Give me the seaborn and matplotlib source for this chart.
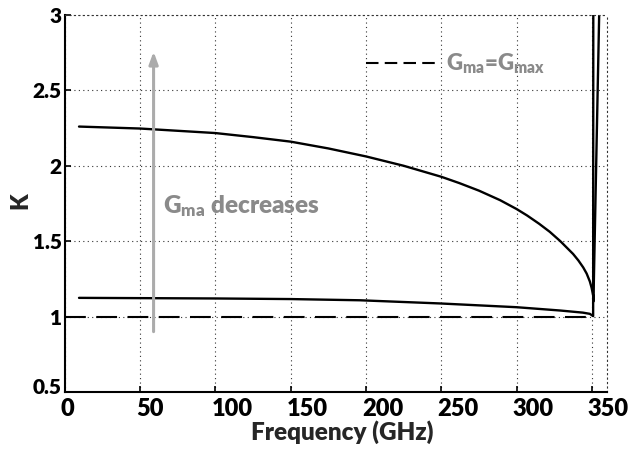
import matplotlib
matplotlib.use("Agg")
import matplotlib.pyplot as plt
import matplotlib.transforms as mtransforms
import seaborn as sns
import pandas as pd

# Stability factor K versus frequency for two bias conditions
freq_hi = [9.5, 50, 100, 125, 150, 175, 200, 225, 250, 262, 275, 289, 300,
           307, 315, 322, 329, 333, 337.5, 341, 344.2, 346.5, 348.6, 349.8,
           350.8, 351.0, 354.9]
k_hi = [2.26, 2.247, 2.217, 2.19, 2.16, 2.115, 2.062, 2.0, 1.927, 1.885,
        1.835, 1.772, 1.713, 1.67, 1.615, 1.562, 1.50, 1.46, 1.415, 1.372,
        1.326, 1.285, 1.233, 1.19, 1.14, 1.10, 3.05]

freq_lo = [9.5, 100, 150, 196, 249, 300, 329, 344, 348.6, 350.8, 350.9]
k_lo = [1.124, 1.12, 1.116, 1.108, 1.087, 1.062, 1.04, 1.026, 1.018, 1.003, 3.05]

# Boundary where the maximum available gain equals the maximum gain (K = 1)
boundary_freq = [0, 350]
boundary_k = [1.0, 1.0]

x_ticks = [0, 50, 100, 150, 200, 250, 300, 350]
y_ticks = [0.5, 1, 1.5, 2, 2.5, 3]
y_tick_labels = ["0.5", "1", "1.5", "2", "2.5", "3"]

sns.set_theme(style="white")
plt.rcParams["font.family"] = ["Lato", "DejaVu Sans"]
plt.rcParams["mathtext.fontset"] = "custom"
plt.rcParams["mathtext.rm"] = "Lato:heavy"
plt.rcParams["mathtext.bf"] = "Lato:heavy"
plt.rcParams["mathtext.it"] = "Lato:heavy"

fig = plt.figure(figsize=(6.3, 4.5), dpi=100)
ax = fig.add_axes([0.1027, 0.129, 0.8608, 0.8377])

df_hi = pd.DataFrame({"f": freq_hi, "K": k_hi})
df_lo = pd.DataFrame({"f": freq_lo, "K": k_lo})
df_b = pd.DataFrame({"f": boundary_freq, "K": boundary_k})

sns.lineplot(data=df_hi, x="f", y="K", ax=ax, color="black", lw=1.7,
             sort=False, estimator=None)
sns.lineplot(data=df_lo, x="f", y="K", ax=ax, color="black", lw=1.7,
             sort=False, estimator=None)
sns.lineplot(data=df_b, x="f", y="K", ax=ax, color="black", lw=1.5,
             sort=False, estimator=None)
ax.lines[-1].set_dashes((10, 5))

ax.set_xlim(0, 360)
ax.set_ylim(0.5, 3)
ax.set_xticks(x_ticks)
ax.set_yticks(y_ticks)
ax.set_xticklabels([str(t) for t in x_ticks])
ax.set_yticklabels(y_tick_labels)

ax.grid(True, linestyle=(0, (1, 3)), color="#333333", linewidth=0.8)
for side in ("left", "bottom"):
    ax.spines[side].set_color("black")
    ax.spines[side].set_linewidth(1.5)
for side in ("top", "right"):
    ax.spines[side].set_linestyle((0, (1, 3)))
    ax.spines[side].set_color("#333333")
    ax.spines[side].set_linewidth(0.8)

ax.tick_params(axis="both", direction="in", length=4, width=1.2,
               bottom=True, left=True, colors="black")
ax.tick_params(axis="x", pad=4, labelsize=17)
ax.tick_params(axis="y", pad=2, labelsize=15)

# x tick labels start at their tick rather than centring on it
shift_left = mtransforms.ScaledTranslation(-4 / 100, 0, fig.dpi_scale_trans)
for lab in ax.get_xticklabels():
    lab.set_fontweight("heavy")
    lab.set_horizontalalignment("left")
    lab.set_transform(lab.get_transform() + shift_left)
raise_up = mtransforms.ScaledTranslation(0, 6 / 100, fig.dpi_scale_trans)
for i, lab in enumerate(ax.get_yticklabels()):
    lab.set_fontweight("heavy")
    if i == 0:
        lab.set_transform(lab.get_transform() + raise_up)

ax.set_xlabel("Frequency (GHz)", fontsize=17.5, fontweight="heavy")
ax.xaxis.set_label_coords(0.511, -0.107)
ax.xaxis.label.set_va("center")
ax.set_ylabel("K", fontsize=17, fontweight="heavy")
ax.yaxis.set_label_coords(-0.082, 0.508)
ax.yaxis.label.set_va("center")

# Arrow showing the direction of decreasing G_ma
ax.annotate("", xy=(59, 2.757), xytext=(59, 0.9),
            arrowprops=dict(arrowstyle="-|>,head_length=0.6,head_width=0.22",
                            color="#ababab", lw=2.2, shrinkA=0, shrinkB=0))
ax.text(65.5, 1.73, r"$\mathrm{G_{ma}}$ decreases", color="#8a8a8a",
        fontsize=17.5, fontweight="heavy", va="center", ha="left")

# Legend entry for the K = 1 boundary
ax.plot([200, 249], [2.68, 2.68], color="black", lw=1.5, dashes=(6, 3))
ax.text(253, 2.68, r"$\mathrm{G_{ma}}$=$\mathrm{G_{max}}$", color="#8a8a8a",
        fontsize=16, fontweight="heavy", va="center", ha="left")

fig.savefig("out.png", dpi=100)
